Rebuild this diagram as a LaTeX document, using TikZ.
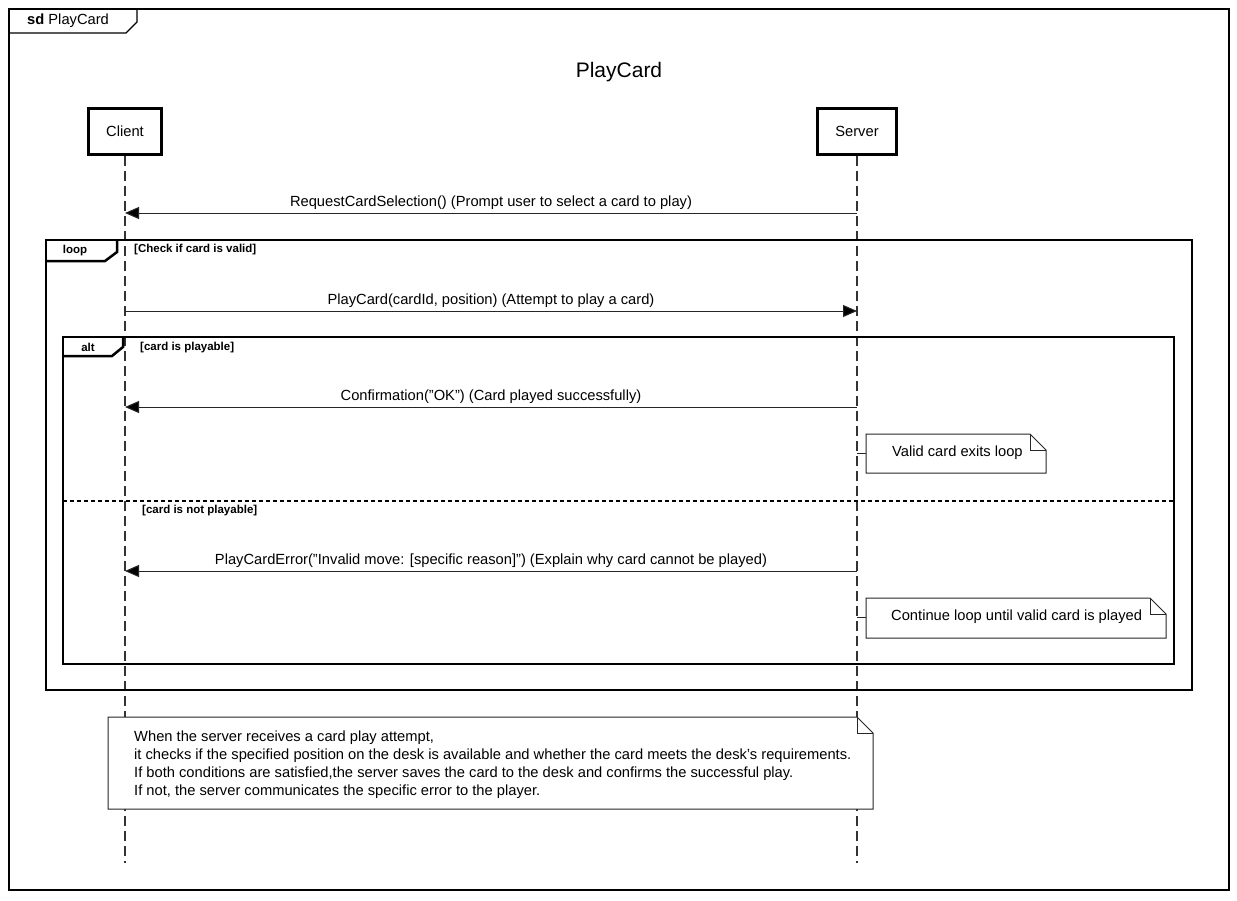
\documentclass[tikz,border=0pt]{standalone}
\usepackage{fontspec}
\setmainfont{Liberation Sans}
\usetikzlibrary{arrows.meta}
\newcommand\myfs[2]{\fontsize{#1}{#2}\selectfont}
\newcommand\dq{\symbol{34}}
\newcommand\sq{\symbol{39}}
\begin{document}
\begin{tikzpicture}[x=1pt,y=-1pt,
  participant/.style={draw, line width=3pt, minimum width=73pt, minimum height=46pt, fill=white, font=\myfs{14.7}{17}, inner sep=0},
  lifeline/.style={draw=black!80, line width=1.3pt, dash pattern=on 10pt off 5pt},
  msg/.style={draw=black!85, line width=1pt, -{Triangle[length=14pt,width=12pt,fill=black]}},
  msglabel/.style={font=\myfs{14.7}{17}, inner sep=0, above=2.5pt},
  fragframe/.style={line width=2.5pt},
  fraglabel/.style={font=\bfseries\myfs{11.5}{14}, inner sep=0},
  guard/.style={font=\bfseries\myfs{11.5}{14}, anchor=west, inner sep=0},
  notebox/.style={draw=black!85, line width=1pt, fill=white},
  notetext/.style={font=\myfs{14.7}{17}, anchor=west, inner sep=0},
  tick/.style={draw=black!85, line width=1pt}
]
\useasboundingbox (0,0) rectangle (1237,900);
\fill[white] (0,0) rectangle (1237,900);

% outer frame
\draw[line width=1.2pt] (9,9) rectangle (1229,890);
\draw[line width=1.2pt] (9,33) -- (126,33) -- (137,22) -- (137,9);
\node[anchor=west, inner sep=0, font=\myfs{14.7}{17}] (sdlabel) at (27,21) {\textbf{sd} PlayCard};

% title
\node[font=\myfs{21}{25}, inner sep=0] (title) at (619,72) {PlayCard};

% participants
\node[participant] (client) at (125,131.5) {Client};
\node[participant, minimum width=79pt] (server) at (857,131.5) {Server};
\coordinate (clientend) at (125,863);
\coordinate (serverend) at (857,863);
\draw[lifeline] (client.south) -- (clientend);
\draw[lifeline] (server.south) -- (serverend);

% message 1
\coordinate (s1) at (857,213);
\coordinate (c1) at (125,213);
\draw[msg] (s1) -- (c1) node[msglabel, midway] (m1) {RequestCardSelection() (Prompt user to select a card to play)};

% loop fragment
\draw[fragframe] (46,240) rectangle (1192,690);
\draw[fragframe] (46,261) -- (105,261) -- (117,252) -- (117,240);
\node[fraglabel] (looplabel) at (75,250.5) {loop};
\node[guard] (loopguard) at (134,250) {[Check if card is valid]};

% message 2
\coordinate (c2) at (125,311);
\coordinate (s2) at (857,311);
\draw[msg] (c2) -- (s2) node[msglabel, midway] (m2) {PlayCard(cardId, position) (Attempt to play a card)};

% alt fragment
\draw[fragframe] (63,337) rectangle (1174,664);
\draw[fragframe] (63,356) -- (112,356) -- (123,347) -- (123,337);
\node[fraglabel] (altlabel) at (88,347) {alt};
\node[guard] (altguard1) at (140,348) {[card is playable]};

% message 3
\coordinate (s3) at (857,407);
\coordinate (c3) at (125,407);
\draw[msg] (s3) -- (c3) node[msglabel, midway] (m3) {Confirmation(\dq OK\dq) (Card played successfully)};

% note 1
\coordinate (n1tick) at (857,453);
\coordinate (n1left) at (866,453);
\draw[notebox] (866,434) -- (1030,434) -- (1046,450) -- (1046,473) -- (866,473) -- cycle;
\draw[notebox, fill=none] (1030,434) -- (1030,450) -- (1046,450);
\draw[tick] (n1tick) -- (n1left);
\node[notetext] (note1) at (892,453) {Valid card exits loop};

% separator
\draw[line width=2pt, dash pattern=on 4pt off 3pt] (63,500.5) -- (1174,500.5);
\node[guard] (altguard2) at (142,510.5) {[card is not playable]};

% message 4
\coordinate (s4) at (857,571);
\coordinate (c4) at (125,571);
\draw[msg] (s4) -- (c4) node[msglabel, midway] (m4) {PlayCardError(\dq Invalid move: [specific reason]\dq) (Explain why card cannot be played)};

% note 2
\coordinate (n2tick) at (857,617);
\coordinate (n2left) at (866,617);
\draw[notebox] (866,598) -- (1150,598) -- (1166,614) -- (1166,638) -- (866,638) -- cycle;
\draw[notebox, fill=none] (1150,598) -- (1150,614) -- (1166,614);
\draw[tick] (n2tick) -- (n2left);
\node[notetext] (note2) at (891,617) {Continue loop until valid card is played};

% big note
\draw[notebox] (108,717) -- (857,717) -- (873,733) -- (873,809) -- (108,809) -- cycle;
\draw[notebox, fill=none] (857,717) -- (857,733) -- (873,733);
\node[anchor=north west, inner sep=0, align=left, font=\myfs{14.7}{18.2}] (bignote) at (134,730.5) {When the server receives a card play attempt,\\
it checks if the specified position on the desk is available and whether the card meets the desk\sq s requirements.\\
If both conditions are satisfied,the server saves the card to the desk and confirms the successful play.\\
If not, the server communicates the specific error to the player.};
\end{tikzpicture}
\end{document}
